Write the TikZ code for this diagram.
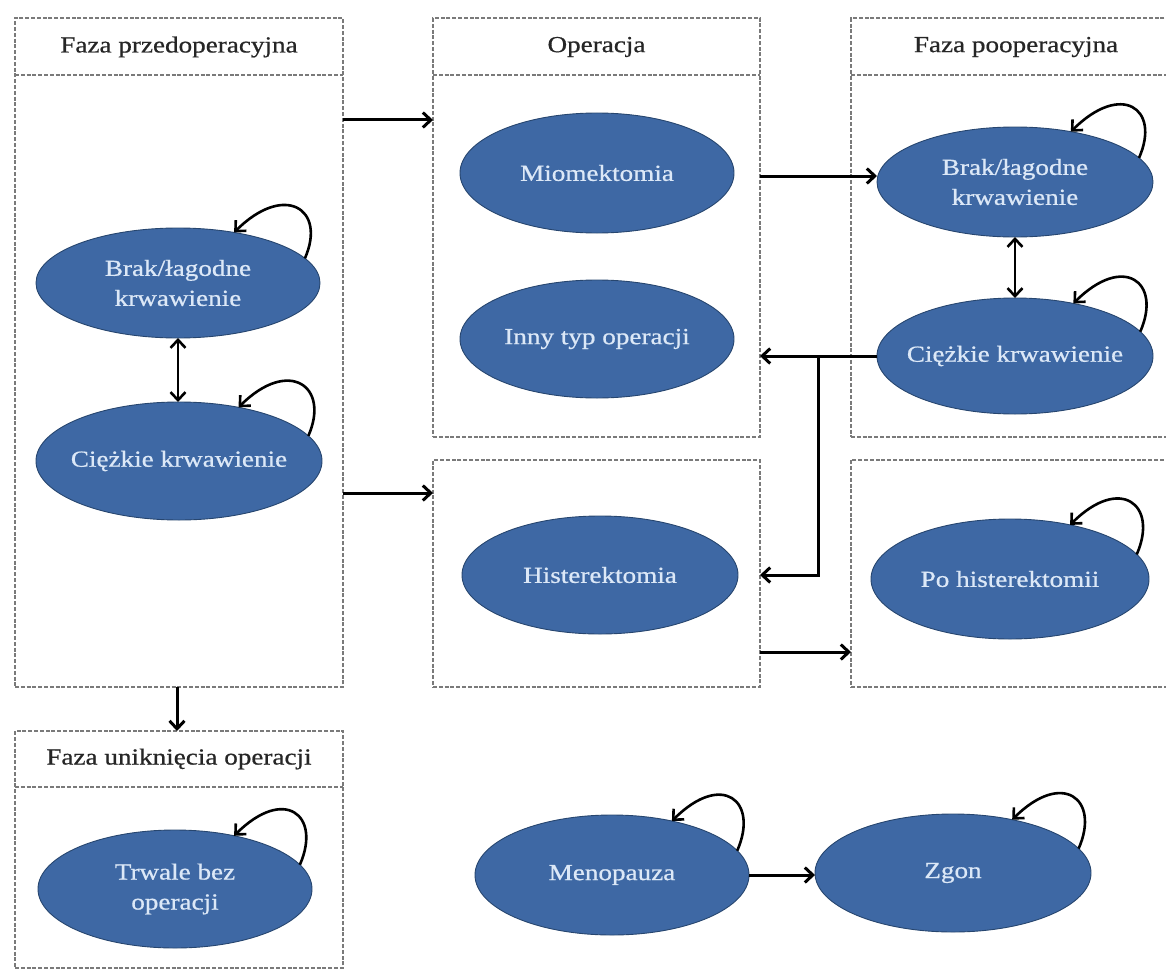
\documentclass[tikz,border=0pt]{standalone}
\usepackage{fontspec}
\setmainfont{Liberation Serif}[FakeStretch=1.18,FakeBold=0.7]
\usetikzlibrary{shapes.geometric,arrows.meta,calc}
\definecolor{ellfill}{HTML}{3E68A4}
\definecolor{elldraw}{HTML}{27466F}
\definecolor{elltext}{HTML}{DCE8F7}
\definecolor{boxline}{HTML}{7A7A7A}
\definecolor{headtext}{HTML}{262626}
\begin{document}
\begin{tikzpicture}[x=1pt,y=-1pt,
  font=\fontsize{23}{30}\selectfont,
  >={Straight Barb[length=8pt,width=15pt]},
  dashline/.style={draw=boxline,line width=1.3pt,dash pattern=on 4pt off 1.8pt},
  phasebox/.style={dashline,rectangle,anchor=north west,inner sep=0pt,outer sep=0pt},
  headtxt/.style={text=headtext,inner sep=0pt},
  state/.style={ellipse,fill=ellfill,draw=elldraw,line width=0.9pt,inner sep=0pt,outer sep=0pt},
  etxt/.style={text=elltext,align=center,inner sep=0pt},
  arr/.style={->,line width=3pt,black},
  dbl/.style={<->,line width=2.6pt,black},
  selfloop/.style={->,line width=2.6pt,black}
]
\useasboundingbox (0,0) rectangle (1166,971);
\clip (0,0) rectangle (1166,971);

% phase boxes
\node[phasebox,minimum width=328pt,minimum height=669pt] (bA) at (15,18) {};
\node[phasebox,minimum width=327pt,minimum height=419pt] (bB) at (433,18) {};
\node[phasebox,minimum width=327pt,minimum height=227pt] (bC) at (433,460) {};
\node[phasebox,minimum width=330pt,minimum height=419pt] (bD) at (851,18) {};
\node[phasebox,minimum width=330pt,minimum height=227pt] (bE) at (851,460) {};
\node[phasebox,minimum width=328pt,minimum height=237pt] (bF) at (15,731) {};
\foreach \b in {bA,bB,bD}{
  \draw[dashline] (\b.west |- 0,75) -- (\b.east |- 0,75);
}
\draw[dashline] (bF.west |- 0,787) -- (bF.east |- 0,787);
\node[headtxt] (hA) at ($(bA.north)+(0,29)$) {Faza przedoperacyjna};
\node[headtxt] (hB) at ($(bB.north)+(0,29)$) {Operacja};
\node[headtxt] (hD) at ($(bD.north)+(0,29)$) {Faza pooperacyjna};
\node[headtxt] (hF) at ($(bF.north)+(0,28)$) {Faza uniknięcia operacji};

% states
\node[state,minimum width=284pt,minimum height=110pt,label={[etxt]center:{Brak/łagodne\\krwawienie}}] (e1) at (178,283) {};
\node[state,minimum width=286pt,minimum height=118pt,label={[etxt]center:{Ciężkie krwawienie}}] (e2) at (179,461) {};
\node[state,minimum width=274pt,minimum height=120pt,label={[etxt]center:{Miomektomia}}] (mio) at (597,173) {};
\node[state,minimum width=274pt,minimum height=118pt,label={[etxt]center:{Inny typ operacji}}] (inny) at (597,339) {};
\node[state,minimum width=276pt,minimum height=118pt,label={[etxt]center:{Histerektomia}}] (hist) at (600,575) {};
\node[state,minimum width=276pt,minimum height=110pt,label={[etxt]center:{Brak/łagodne\\krwawienie}}] (e3) at (1015,182) {};
\node[state,minimum width=276pt,minimum height=116pt,label={[etxt]center:{Ciężkie krwawienie}}] (e4) at (1015,356) {};
\node[state,minimum width=278pt,minimum height=120pt,label={[etxt]center:{Po histerektomii}}] (po) at (1010,579) {};
\node[state,minimum width=274pt,minimum height=118pt,label={[etxt]center:{Trwale bez\\operacji}}] (trw) at (175,889) {};
\node[state,minimum width=274pt,minimum height=120pt,label={[etxt]center:{Menopauza}}] (meno) at (612,875) {};
\node[state,minimum width=276pt,minimum height=118pt,label={[etxt]center:{Zgon}}] (zgon) at (953,873) {};

% transitions between phases
\draw[arr] (bA.east |- 0,120) -- (bB.west |- 0,120);
\draw[arr] (bA.east |- 0,493) -- (bC.west |- 0,493);
\draw[arr] (bA.south -| 177,0) -- (bF.north -| 177,0);
\draw[arr] (bB.east |- 0,176) -- (e3.west |- 0,176);
\draw[arr] (e4.west) -- (bB.east |- e4.west);
\coordinate (j) at (e4.west -| 818,0);
\draw[arr] (j) |- (bC.east |- hist);
\draw[arr] (bC.east |- 0,652) -- (bE.west |- 0,652);
\draw[arr] (meno.east) -- (zgon.west |- meno.east);

% two-way transitions
\draw[dbl] (e1.south -| 178,0) -- (e2.north -| 178,0);
\draw[dbl] (e3.south) -- (e4.north);

% self loops
\foreach \n in {e1,e2,e3,e4,po,trw,meno,zgon}{
  \draw[selfloop] (\n.11) .. controls +(22,-50) and +(50,-50) .. (\n.42);
}
\end{tikzpicture}
\end{document}
